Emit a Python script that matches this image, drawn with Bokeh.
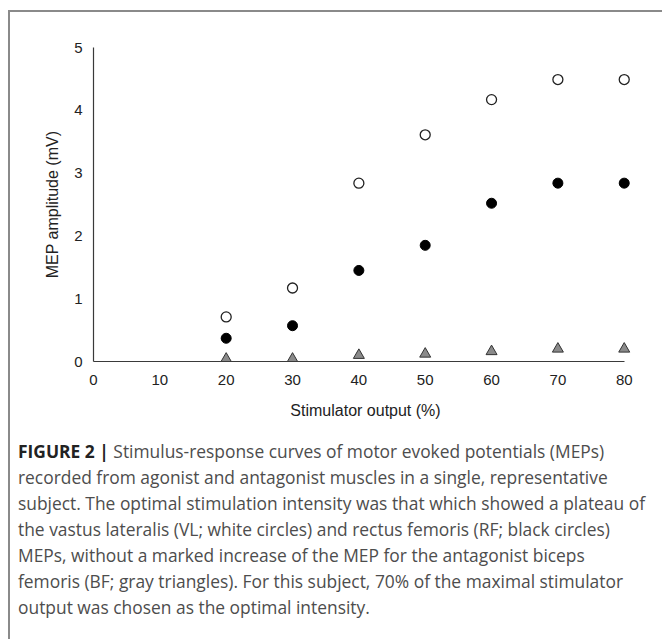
from bokeh.plotting import figure
from bokeh.models import FixedTicker, Div, Range1d
from bokeh.layouts import column
from bokeh.embed import file_html
from bokeh.resources import INLINE

# Data
stim_output = [20, 30, 40, 50, 60, 70, 80]
vl_mep = [0.71, 1.17, 2.84, 3.61, 4.17, 4.49, 4.49]   # white circles
rf_mep = [0.37, 0.57, 1.45, 1.85, 2.52, 2.84, 2.84]   # black circles
bf_mep = [0.04, 0.04, 0.10, 0.12, 0.16, 0.20, 0.20]   # gray triangles
x_ticks = [0, 10, 20, 30, 40, 50, 60, 70, 80]
y_ticks = [0, 1, 2, 3, 4, 5]

FONT = "Liberation Sans"

p = figure(width=652, height=413, output_backend="svg", toolbar_location=None,
           x_range=Range1d(0, 82), y_range=Range1d(0, 5),
           min_border_left=83, min_border_right=25, min_border_top=35, min_border_bottom=64)
p.outline_line_color = None
p.grid.visible = False
p.background_fill_color = "white"
p.border_fill_color = "white"

p.xaxis.ticker = FixedTicker(ticks=x_ticks)
p.yaxis.ticker = FixedTicker(ticks=y_ticks)
p.xaxis.bounds = (0, 80)
p.yaxis.bounds = (0, 5)
p.xaxis.axis_label = "Stimulator output (%)"
p.yaxis.axis_label = "MEP amplitude (mV)"
for ax in (p.xaxis, p.yaxis):
    ax.major_tick_line_color = None
    ax.minor_tick_line_color = None
    ax.axis_line_color = "#3a3a3a"
    ax.axis_line_width = 1.2
    ax.major_label_text_font = FONT
    ax.major_label_text_font_size = "15px"
    ax.major_label_text_color = "#222222"
    ax.axis_label_text_font = FONT
    ax.axis_label_text_font_size = "16px"
    ax.axis_label_text_font_style = "normal"
    ax.axis_label_text_color = "#222222"
p.xaxis.major_label_standoff = 7
p.xaxis.axis_label_standoff = 14
p.yaxis.major_label_standoff = 5
p.yaxis.axis_label_standoff = 10

p.scatter(stim_output, vl_mep, marker="circle", size=10, fill_color="white",
          line_color="#222222", line_width=1.3)
p.scatter(stim_output, rf_mep, marker="circle", size=10, fill_color="black",
          line_color="black", line_width=1)
p.scatter(stim_output, bf_mep, marker="triangle", size=11, fill_color="#8a8a8a",
          line_color="#333333", line_width=1)

caption_lines = [
    "<b style='color:#222'>FIGURE 2 |</b> Stimulus-response curves of motor evoked potentials (MEPs)",
    "recorded from agonist and antagonist muscles in a single, representative",
    "subject. The optimal stimulation intensity was that which showed a plateau of",
    "the vastus lateralis (VL; white circles) and rectus femoris (RF; black circles)",
    "MEPs, without a marked increase of the MEP for the antagonist biceps",
    "femoris (BF; gray triangles). For this subject, 70% of the maximal stimulator",
    "output was chosen as the optimal intensity.",
]
cap = Div(text="<br>".join(caption_lines), width=650, height=200,
          styles={"font-family": "Open Sans", "font-size": "17.4px", "line-height": "26px",
                  "color": "#4d4d4d", "white-space": "nowrap",
                  "padding-left": "3px", "margin-top": "13px"})

layout = column(p, cap, spacing=0,
                styles={"border-top": "2px solid #8a8a8a", "border-left": "2px solid #8a8a8a",
                        "margin-left": "8px", "margin-top": "10px"})

open("out.html", "w").write(file_html(layout, INLINE))
